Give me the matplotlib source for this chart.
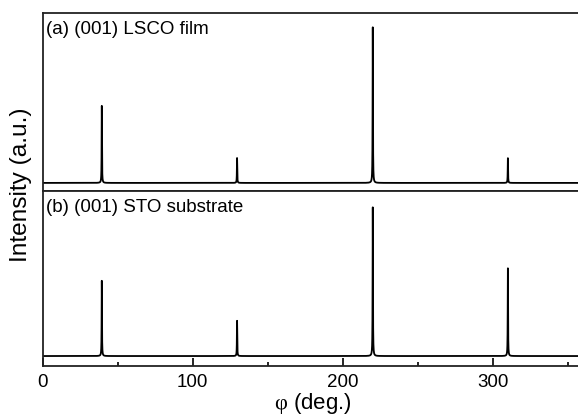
import numpy as np
import matplotlib.pyplot as plt
from matplotlib.ticker import MultipleLocator

# peak positions (deg.) and normalised peak intensities of the phi scans
peak_phi = [39.4, 129.6, 220.1, 310.2]
lsco_heights = [0.495, 0.160, 1.000, 0.159]
sto_heights = [0.506, 0.237, 1.000, 0.590]
peak_fwhm = 0.25

panel_labels = ["(a) (001) LSCO film", "(b) (001) STO substrate"]

plt.rcParams["font.family"] = ["Liberation Sans", "DejaVu Sans"]
plt.rcParams["mathtext.fontset"] = "custom"
plt.rcParams["mathtext.rm"] = "Liberation Serif"


def phi_scan(phi, centers, heights, fwhm):
    # sum of narrow lorentzian reflections on a flat background
    g = fwhm / 2
    y = np.zeros_like(phi)
    for c, h in zip(centers, heights):
        y += h * g**2 / (g**2 + (phi - c) ** 2)
    return y


phi = np.arange(0, 360.01, 0.02)

fig = plt.figure(figsize=(5.78, 4.16), dpi=100)
ax_top = fig.add_axes([0.0739, 0.5416, 0.934, 0.4264])
ax_bot = fig.add_axes([0.0739, 0.1202, 0.934, 0.4214], sharex=ax_top)

for ax, heights, label, ylim in [
    (ax_top, lsco_heights, panel_labels[0], (-0.05, 1.09)),
    (ax_bot, sto_heights, panel_labels[1], (-0.067, 1.112)),
]:
    ax.plot(phi, phi_scan(phi, peak_phi, heights, peak_fwhm), color="black", lw=1.3)
    ax.set_ylim(*ylim)
    ax.set_yticks([])
    for s in ax.spines.values():
        s.set_linewidth(1.3)
        s.set_color("#222222")
    ax.text(0.006, 0.955, label, transform=ax.transAxes, fontsize=13.5,
            ha="left", va="top")

ax_bot.set_xlim(0, 360)
ax_bot.xaxis.set_major_locator(MultipleLocator(100))
ax_bot.xaxis.set_minor_locator(MultipleLocator(50))
ax_bot.tick_params(axis="x", which="major", direction="in", length=6,
                   width=1.2, labelsize=13.5, pad=6)
ax_bot.tick_params(axis="x", which="minor", direction="in", length=3, width=1.2)
ax_top.tick_params(axis="x", which="both", bottom=False, labelbottom=False)

ax_bot.set_xlabel(r"$\mathrm{\varphi}$ (deg.)", fontsize=16, labelpad=0)
fig.text(0.037, 0.555, "Intensity (a.u.)", rotation=90, fontsize=17.6,
         ha="center", va="center")

fig.savefig("out.png", dpi=100)
